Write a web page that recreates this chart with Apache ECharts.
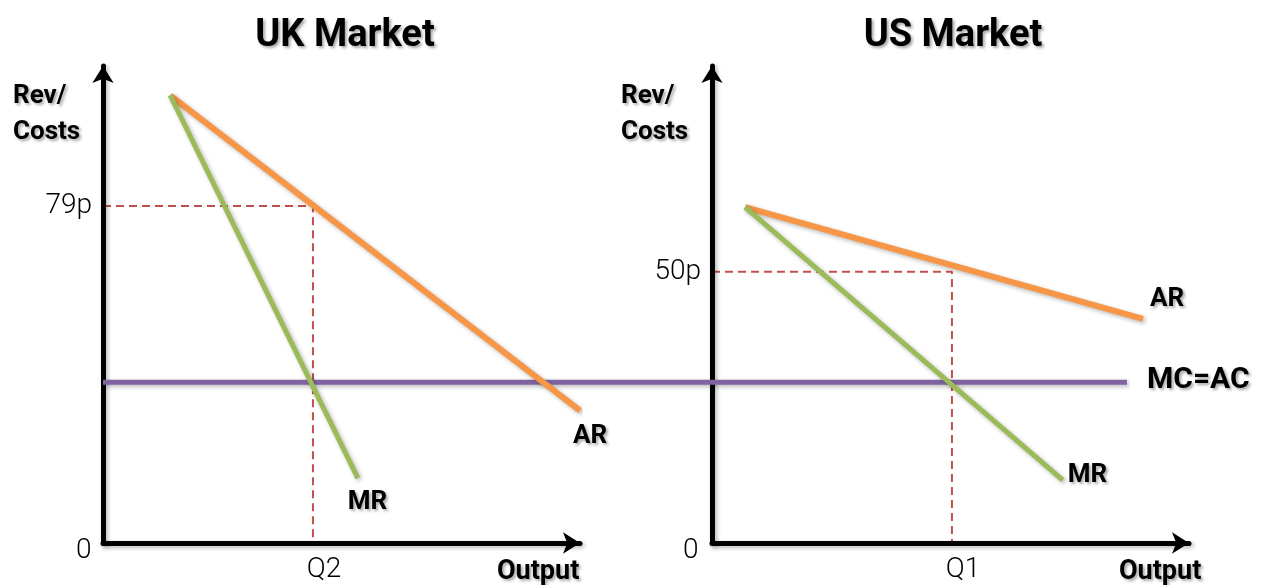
<!DOCTYPE html>
<html>
<head>
<meta charset="utf-8">
<script src="https://cdn.jsdelivr.net/npm/echarts@6/dist/echarts.min.js"></script>
<style>
  html, body { margin: 0; padding: 0; background: #fff; }
  #chart { width: 1266px; height: 585px; }
</style>
</head>
<body>
<div id="chart"></div>
<script>
// values, in axis units (0..~99 on both axes)
var ukAR = [[14, 93.3], [99.4, 27.6]];
var ukMR = [[14, 93.3], [53.1, 13.5]];
var usAR = [[6.9, 70], [89.8, 46.7]];
var usMR = [[6.9, 70], [73.1, 13.1]];
var mcAc = [[0, 33.5], [213.3, 33.5]];   // one cost line across both markets (own wide grid)

var priceTicks = [70.2, 56.5];          // UK, US
var priceTickLabels = ['79p', '50p'];
var qtyTicks = [43.75, 50];
var qtyTickLabels = ['Q2', 'Q1'];

var ORANGE = '#F79646', GREEN = '#9BBB59', PURPLE = '#8064A2', RED = '#C0504D';
var FONT = 'Roboto';
var AXIS_MAX = 99.4;

var shadow = { shadowColor: 'rgba(0,0,0,0.28)', shadowBlur: 4, shadowOffsetX: 2, shadowOffsetY: 2 };
var txtShadow = { textShadowColor: 'rgba(0,0,0,0.35)', textShadowBlur: 3, textShadowOffsetX: 2, textShadowOffsetY: 2 };

function boldText(size) {
  return Object.assign({ fontFamily: FONT, fontWeight: 'bold', fontSize: size, color: '#000' }, txtShadow);
}

function guide(i) {
  return [[0, priceTicks[i]], [qtyTicks[i], priceTicks[i]], [qtyTicks[i], 0]];
}

function axisLine() {
  return { show: true, symbol: ['none', 'arrow'], symbolSize: [16, 17],
    lineStyle: Object.assign({ color: '#000', width: 5 }, shadow) };
}

function axisX(i) {
  return {
    type: 'value', gridIndex: i, min: 0, max: AXIS_MAX, z: 3,
    splitLine: { show: false }, axisTick: { show: false },
    axisLine: axisLine(),
    axisLabel: {
      customValues: [qtyTicks[i]], margin: 13, fontFamily: FONT, fontWeight: 300, fontSize: 28, color: '#000',
      padding: [0, 0, 0, 22],
      formatter: function () { return qtyTickLabels[i]; }
    }
  };
}

function axisY(i) {
  return {
    type: 'value', gridIndex: i, min: 0, max: AXIS_MAX, z: 3,
    splitLine: { show: false }, axisTick: { show: false },
    axisLine: axisLine(),
    axisLabel: {
      customValues: [priceTicks[i]], margin: 11, fontFamily: FONT, fontWeight: 300, fontSize: 28, color: '#000',
      formatter: function () { return priceTickLabels[i]; }
    }
  };
}

// curve with its name written next to its last point
function curve(data, grid, color, width, label, offset, size) {
  return {
    type: 'line', xAxisIndex: grid, yAxisIndex: grid,
    data: data, symbol: 'none', clip: false, silent: true, z: 4,
    lineStyle: Object.assign({ color: color, width: width }, shadow),
    markPoint: {
      silent: true, symbol: 'circle', symbolSize: 1,
      itemStyle: { color: 'rgba(0,0,0,0)' },
      data: [{
        coord: data[data.length - 1],
        label: Object.assign({ show: true, formatter: label, position: 'inside',
          align: 'left', verticalAlign: 'middle', offset: offset }, boldText(size || 26))
      }]
    }
  };
}

function dashed(grid) {
  return {
    type: 'line', xAxisIndex: grid, yAxisIndex: grid, data: guide(grid),
    symbol: 'none', silent: true, z: 2,
    lineStyle: { color: RED, width: 2, type: [8, 5] }
  };
}

var hiddenAxis = { show: false, splitLine: { show: false } };

var chart = echarts.init(document.getElementById('chart'));
chart.setOption({
  backgroundColor: '#fff',
  animation: false,
  title: [
    { text: 'UK Market', left: 345, top: 17, textAlign: 'center', padding: 0, textStyle: boldText(38) },
    { text: 'US Market', left: 953, top: 17, textAlign: 'center', padding: 0, textStyle: boldText(38) },
    { text: 'Rev/\nCosts', left: 13, top: 78, padding: 0, textStyle: Object.assign(boldText(26), { lineHeight: 36 }) },
    { text: 'Rev/\nCosts', left: 621, top: 78, padding: 0, textStyle: Object.assign(boldText(26), { lineHeight: 36 }) },
    { text: 'Output', left: 497, top: 559, padding: 0, textStyle: boldText(27) },
    { text: 'Output', left: 1119, top: 559, padding: 0, textStyle: boldText(27) },
    { text: '0', left: 76, top: 537, padding: 0, textStyle: { fontFamily: FONT, fontWeight: 300, fontSize: 28, color: '#000' } },
    { text: '0', left: 683, top: 537, padding: 0, textStyle: { fontFamily: FONT, fontWeight: 300, fontSize: 28, color: '#000' } }
  ],
  grid: [
    { left: 103, top: 66, width: 477, height: 477 },
    { left: 712, top: 66, width: 477, height: 477 },
    { left: 103, top: 66, width: 1024, height: 477 }
  ],
  xAxis: [axisX(0), axisX(1),
    Object.assign({ type: 'value', gridIndex: 2, min: 0, max: 213.3 }, hiddenAxis)],
  yAxis: [axisY(0), axisY(1),
    Object.assign({ type: 'value', gridIndex: 2, min: 0, max: AXIS_MAX }, hiddenAxis)],
  series: [
    dashed(0),
    dashed(1),
    curve(mcAc, 2, PURPLE, 5, 'MC=AC', [20, -2], 30),
    curve(ukAR, 0, ORANGE, 6, 'AR', [-7, 26]),
    curve(ukMR, 0, GREEN, 5, 'MR', [-10, 24]),
    curve(usAR, 1, ORANGE, 6, 'AR', [7, -19]),
    curve(usMR, 1, GREEN, 5, 'MR', [5, -5])
  ]
});
</script>
</body>
</html>
